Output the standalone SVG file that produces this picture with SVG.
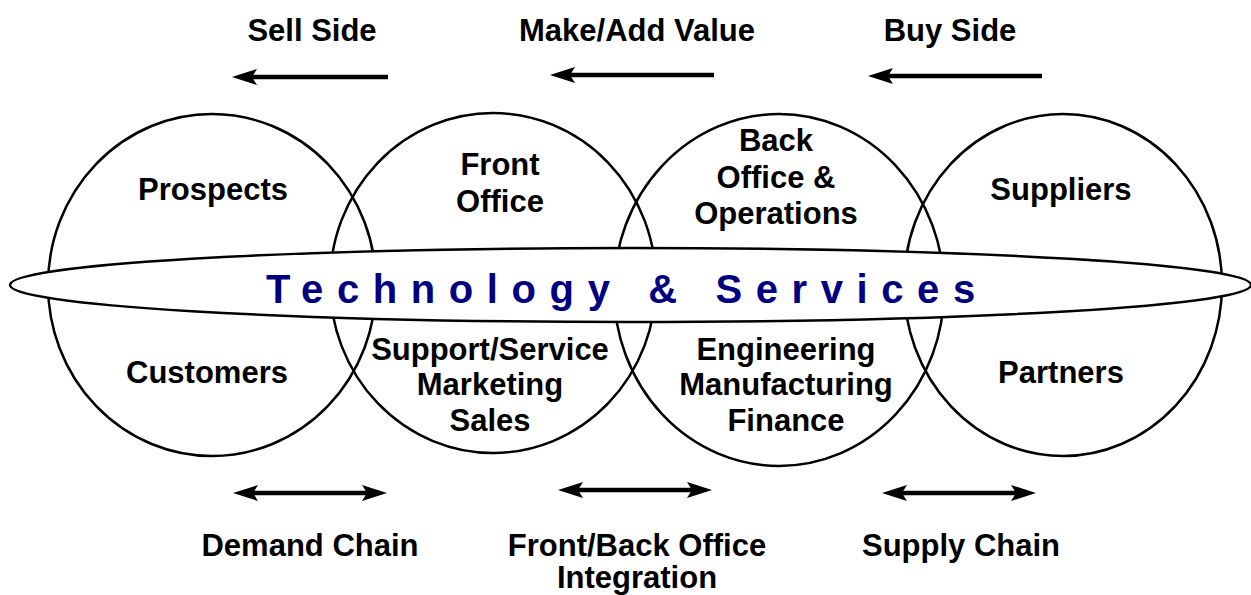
<svg xmlns="http://www.w3.org/2000/svg" width="1251" height="595" viewBox="0 0 1251 595">
<style>
.lbl{font-family:"Liberation Sans",Arial,sans-serif;font-weight:bold;font-size:31px;fill:#000;text-anchor:middle}
.ring{fill:none;stroke:#000;stroke-width:2.5}
.arr{stroke:#000;stroke-width:4.5;fill:none}
.tech{font-family:"Liberation Sans",Arial,sans-serif;font-weight:bold;font-size:40px;fill:#000080;letter-spacing:13.6px}
</style>
<defs>
<marker id="head" markerUnits="userSpaceOnUse" markerWidth="26" markerHeight="18" viewBox="0 -9 26 18" refX="5" refY="0" orient="auto-start-reverse">
<path d="M0,-8 L25,0 L0,8 L5,0 Z" fill="#000"/>
</marker>
</defs>
<rect width="1251" height="595" fill="#fff"/>
<g id="circles">
<g id="circle-prospects"><ellipse class="ring" cx="212" cy="285" rx="164" ry="171"/></g>
<g id="circle-front"><ellipse class="ring" cx="493" cy="283" rx="163" ry="170"/></g>
<g id="circle-back"><ellipse class="ring" cx="779" cy="290" rx="165" ry="176"/></g>
<g id="circle-suppliers"><ellipse class="ring" cx="1063" cy="285" rx="159" ry="171"/></g>
</g>
<g id="technology">
<ellipse cx="630.5" cy="285" rx="620.5" ry="37" fill="#fff" stroke="#000" stroke-width="2.5"/>
<text class="tech" x="266" y="303">Technology &amp; Services</text>
</g>
<g id="labels">
<text class="lbl" x="312" y="41">Sell Side</text>
<text class="lbl" x="637" y="41">Make/Add Value</text>
<text class="lbl" x="950" y="41">Buy Side</text>
<text class="lbl" x="213" y="200">Prospects</text>
<text class="lbl" x="500" y="175">Front</text>
<text class="lbl" x="500" y="212">Office</text>
<text class="lbl" x="776" y="151">Back</text>
<text class="lbl" x="776" y="188">Office &amp;</text>
<text class="lbl" x="776" y="224">Operations</text>
<text class="lbl" x="1061" y="200">Suppliers</text>
<text class="lbl" x="207" y="383">Customers</text>
<text class="lbl" x="490" y="360">Support/Service</text>
<text class="lbl" x="490" y="395">Marketing</text>
<text class="lbl" x="490" y="431">Sales</text>
<text class="lbl" x="786" y="360">Engineering</text>
<text class="lbl" x="786" y="395">Manufacturing</text>
<text class="lbl" x="786" y="431">Finance</text>
<text class="lbl" x="1061" y="383">Partners</text>
<text class="lbl" x="310" y="556">Demand Chain</text>
<text class="lbl" x="637" y="556">Front/Back Office</text>
<text class="lbl" x="637" y="588">Integration</text>
<text class="lbl" x="961" y="556">Supply Chain</text>
</g>
<g id="connectors">
<line class="arr" x1="388" y1="77" x2="252" y2="77" marker-end="url(#head)"/>
<line class="arr" x1="714" y1="75" x2="570" y2="75" marker-end="url(#head)"/>
<line class="arr" x1="1042" y1="76" x2="888" y2="76" marker-end="url(#head)"/>
<line class="arr" x1="253" y1="493" x2="367" y2="493" marker-start="url(#head)" marker-end="url(#head)"/>
<line class="arr" x1="578" y1="490" x2="692" y2="490" marker-start="url(#head)" marker-end="url(#head)"/>
<line class="arr" x1="902" y1="493" x2="1016" y2="493" marker-start="url(#head)" marker-end="url(#head)"/>
</g>
</svg>
